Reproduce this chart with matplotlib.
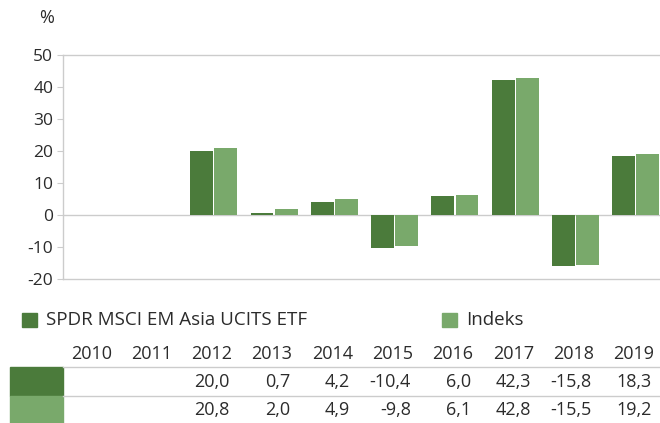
import matplotlib
matplotlib.use("Agg")
import matplotlib.pyplot as plt
import matplotlib.transforms as mtransforms
from matplotlib.patches import Rectangle
import numpy as np

years = ["2010", "2011", "2012", "2013", "2014", "2015", "2016", "2017", "2018", "2019"]
etf = [None, None, 20.0, 0.7, 4.2, -10.4, 6.0, 42.3, -15.8, 18.3]
index = [None, None, 20.8, 2.0, 4.9, -9.8, 6.1, 42.8, -15.5, 19.2]
seriesNames = ["SPDR MSCI EM Asia UCITS ETF", "Indeks"]
yTicks = [-20, -10, 0, 10, 20, 30, 40, 50]

darkGreen = "#4b7b3b"
lightGreen = "#79a96b"
lineGray = "#cccccc"
textColor = "#2b2b2b"
fontName = "Open Sans"

plt.rcParams["font.family"] = [fontName, "DejaVu Sans"]

W, H = 660, 423
fig = plt.figure(figsize=(W / 100, H / 100), dpi=100)
ax = fig.add_axes([63 / W, 1 - 279 / H, 603 / W, 224 / H])

x = np.arange(len(years))
barW = 0.38
etfVals = [np.nan if v is None else v for v in etf]
idxVals = [np.nan if v is None else v for v in index]
ax.bar(x - 0.2, etfVals, width=barW, color=darkGreen, zorder=2)
ax.bar(x + 0.2, idxVals, width=barW, color=lightGreen, zorder=2)

ax.set_xlim(-0.5, len(years) - 0.5)
ax.set_ylim(-20, 50)
ax.set_yticks(yTicks)
ax.set_yticklabels([str(t) for t in yTicks], fontsize=12.5, color=textColor)
ax.set_xticks([])
ax.axhline(0, color=lineGray, lw=1, zorder=1)
for side in ["left", "top", "bottom"]:
    ax.spines[side].set_color(lineGray)
    ax.spines[side].set_linewidth(1)
ax.spines["right"].set_visible(False)
ax.tick_params(axis="y", length=4, color=lineGray, pad=3)

fig.text(47 / W, 1 - 18 / H, "%", fontsize=13, color=textColor, ha="center", va="center")

# legend
def figY(py):
    return 1 - py / H

legendItems = [(22, darkGreen, seriesNames[0]), (442, lightGreen, seriesNames[1])]
for px, col, name in legendItems:
    fig.patches.append(Rectangle((px / W, figY(327)), 15 / W, 14 / H, color=col,
                                 transform=fig.transFigure, figure=fig))
    fig.text((px + 24) / W, figY(320), name, fontsize=13.5, color=textColor,
             ha="left", va="center")

# data table below
blend = mtransforms.blended_transform_factory(ax.transData, fig.transFigure)
offset = mtransforms.ScaledTranslation(-2 / 100, 0, fig.dpi_scale_trans)
rOffset = mtransforms.ScaledTranslation(16 / 100, 0, fig.dpi_scale_trans)
for i, yr in enumerate(years):
    fig.text(x[i], figY(354), yr, transform=blend + offset, fontsize=13,
             color=textColor, ha="center", va="center")

rows = [(etf, darkGreen, 367, 396), (index, lightGreen, 396, 423)]
for vals, col, top, bot in rows:
    fig.patches.append(Rectangle((10 / W, figY(bot)), 53 / W, (bot - top) / H, color=col,
                                 transform=fig.transFigure, figure=fig))
    for i, v in enumerate(vals):
        if v is None:
            continue
        fig.text(x[i], figY((top + bot) / 2), ("%.1f" % v).replace(".", ","),
                 transform=blend + rOffset, fontsize=13, color=textColor,
                 ha="right", va="center")

for py in [367, 396]:
    fig.add_artist(plt.Line2D([63 / W, 1], [figY(py), figY(py)], color=lineGray, lw=1,
                              transform=fig.transFigure))

fig.savefig("out.png", dpi=100)
